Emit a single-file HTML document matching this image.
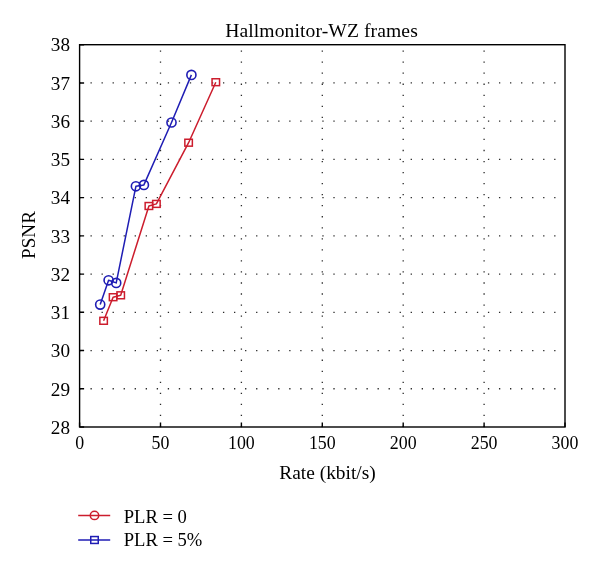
<!DOCTYPE html><html><head><meta charset="utf-8"><style>html,body{margin:0;padding:0;background:#fff;}svg{display:block;will-change:transform;}text{font-family:"Liberation Serif",serif;fill:#000;}</style></head><body>
<svg width="600" height="568" viewBox="0 0 600 568">
<rect width="600" height="568" fill="#fff"/>
<g stroke="#2a2a2a" stroke-width="1.3" stroke-dasharray="1.3 9.74"><line x1="79.45" y1="388.77" x2="564" y2="388.77"/><line x1="79.45" y1="350.54" x2="564" y2="350.54"/><line x1="79.45" y1="312.31" x2="564" y2="312.31"/><line x1="79.45" y1="274.08" x2="564" y2="274.08"/><line x1="79.45" y1="235.85" x2="564" y2="235.85"/><line x1="79.45" y1="197.62" x2="564" y2="197.62"/><line x1="79.45" y1="159.39" x2="564" y2="159.39"/><line x1="79.45" y1="121.16" x2="564" y2="121.16"/><line x1="79.45" y1="82.93" x2="564" y2="82.93"/></g>
<g stroke="#2a2a2a" stroke-width="1.3" stroke-dasharray="1.3 9.74"><line x1="160.50" y1="427.15" x2="160.50" y2="45.5"/><line x1="241.40" y1="427.15" x2="241.40" y2="45.5"/><line x1="322.30" y1="427.15" x2="322.30" y2="45.5"/><line x1="403.20" y1="427.15" x2="403.20" y2="45.5"/><line x1="484.10" y1="427.15" x2="484.10" y2="45.5"/></g>
<rect x="79.60" y="44.70" width="485.40" height="382.30" fill="none" stroke="#000" stroke-width="1.4"/>
<path d="M79.60 427.00h4.5M79.60 388.77h4.5M79.60 350.54h4.5M79.60 312.31h4.5M79.60 274.08h4.5M79.60 235.85h4.5M79.60 197.62h4.5M79.60 159.39h4.5M79.60 121.16h4.5M79.60 82.93h4.5M79.60 44.70h4.5M79.60 427.00v-4.6M160.50 427.00v-4.6M241.40 427.00v-4.6M322.30 427.00v-4.6M403.20 427.00v-4.6M484.10 427.00v-4.6M565.00 427.00v-4.6" stroke="#000" stroke-width="1.4" fill="none"/>
<text x="70" y="433.75" font-size="19.2" text-anchor="end">28</text>
<text x="70" y="395.52" font-size="19.2" text-anchor="end">29</text>
<text x="70" y="357.29" font-size="19.2" text-anchor="end">30</text>
<text x="70" y="319.06" font-size="19.2" text-anchor="end">31</text>
<text x="70" y="280.83" font-size="19.2" text-anchor="end">32</text>
<text x="70" y="242.60" font-size="19.2" text-anchor="end">33</text>
<text x="70" y="204.37" font-size="19.2" text-anchor="end">34</text>
<text x="70" y="166.14" font-size="19.2" text-anchor="end">35</text>
<text x="70" y="127.91" font-size="19.2" text-anchor="end">36</text>
<text x="70" y="89.68" font-size="19.2" text-anchor="end">37</text>
<text x="70" y="51.45" font-size="19.2" text-anchor="end">38</text>
<text x="79.60" y="448.7" font-size="19.2" text-anchor="middle" textLength="8.93" lengthAdjust="spacingAndGlyphs">0</text>
<text x="160.50" y="448.7" font-size="19.2" text-anchor="middle" textLength="17.86" lengthAdjust="spacingAndGlyphs">50</text>
<text x="241.40" y="448.7" font-size="19.2" text-anchor="middle" textLength="26.78" lengthAdjust="spacingAndGlyphs">100</text>
<text x="322.30" y="448.7" font-size="19.2" text-anchor="middle" textLength="26.78" lengthAdjust="spacingAndGlyphs">150</text>
<text x="403.20" y="448.7" font-size="19.2" text-anchor="middle" textLength="26.78" lengthAdjust="spacingAndGlyphs">200</text>
<text x="484.10" y="448.7" font-size="19.2" text-anchor="middle" textLength="26.78" lengthAdjust="spacingAndGlyphs">250</text>
<text x="565.00" y="448.7" font-size="19.2" text-anchor="middle" textLength="26.78" lengthAdjust="spacingAndGlyphs">300</text>
<text x="225.2" y="37" font-size="19.6" textLength="192.6">Hallmonitor-WZ frames</text>
<text x="279.3" y="478.5" font-size="19.4">Rate (kbit/s)</text>
<text transform="translate(34.9 259.0) rotate(-90)" font-size="19" textLength="47.9">PSNR</text>
<polyline points="100.2,304.6 108.6,280.3 116.2,282.9 135.9,186.3 143.9,184.9 171.5,122.5 191.4,74.9" fill="none" stroke="#1f1db4" stroke-width="1.5" stroke-linejoin="round"/>
<polyline points="103.6,320.8 113.1,297.2 120.7,295.3 148.9,206.0 156.4,203.9 188.6,142.7 215.8,82.2" fill="none" stroke="#cc1d2d" stroke-width="1.5" stroke-linejoin="round"/>
<circle cx="100.2" cy="304.6" r="4.55" fill="none" stroke="#1f1db4" stroke-width="1.6"/>
<circle cx="108.6" cy="280.3" r="4.55" fill="none" stroke="#1f1db4" stroke-width="1.6"/>
<circle cx="116.2" cy="282.9" r="4.55" fill="none" stroke="#1f1db4" stroke-width="1.6"/>
<circle cx="135.9" cy="186.3" r="4.55" fill="none" stroke="#1f1db4" stroke-width="1.6"/>
<circle cx="143.9" cy="184.9" r="4.55" fill="none" stroke="#1f1db4" stroke-width="1.6"/>
<circle cx="171.5" cy="122.5" r="4.55" fill="none" stroke="#1f1db4" stroke-width="1.6"/>
<circle cx="191.4" cy="74.9" r="4.55" fill="none" stroke="#1f1db4" stroke-width="1.6"/>
<rect x="99.85" y="317.35" width="7.5" height="6.9" fill="none" stroke="#cc1d2d" stroke-width="1.5"/>
<rect x="109.35" y="293.75" width="7.5" height="6.9" fill="none" stroke="#cc1d2d" stroke-width="1.5"/>
<rect x="116.95" y="291.85" width="7.5" height="6.9" fill="none" stroke="#cc1d2d" stroke-width="1.5"/>
<rect x="145.15" y="202.55" width="7.5" height="6.9" fill="none" stroke="#cc1d2d" stroke-width="1.5"/>
<rect x="152.65" y="200.45" width="7.5" height="6.9" fill="none" stroke="#cc1d2d" stroke-width="1.5"/>
<rect x="184.85" y="139.25" width="7.5" height="6.9" fill="none" stroke="#cc1d2d" stroke-width="1.5"/>
<rect x="212.05" y="78.75" width="7.5" height="6.9" fill="none" stroke="#cc1d2d" stroke-width="1.5"/>
<line x1="78.2" y1="515.4" x2="110.2" y2="515.4" stroke="#cc1d2d" stroke-width="1.5"/>
<circle cx="94.5" cy="515.4" r="4.2" fill="none" stroke="#cc1d2d" stroke-width="1.5"/>
<line x1="78.2" y1="540" x2="110.2" y2="540" stroke="#1f1db4" stroke-width="1.5"/>
<rect x="90.75" y="536.55" width="7.5" height="6.9" fill="none" stroke="#1f1db4" stroke-width="1.5"/>
<text x="123.7" y="522.75" font-size="18.6">PLR = 0</text>
<text x="123.7" y="545.5" font-size="18.6">PLR = 5%</text>
</svg></body></html>
